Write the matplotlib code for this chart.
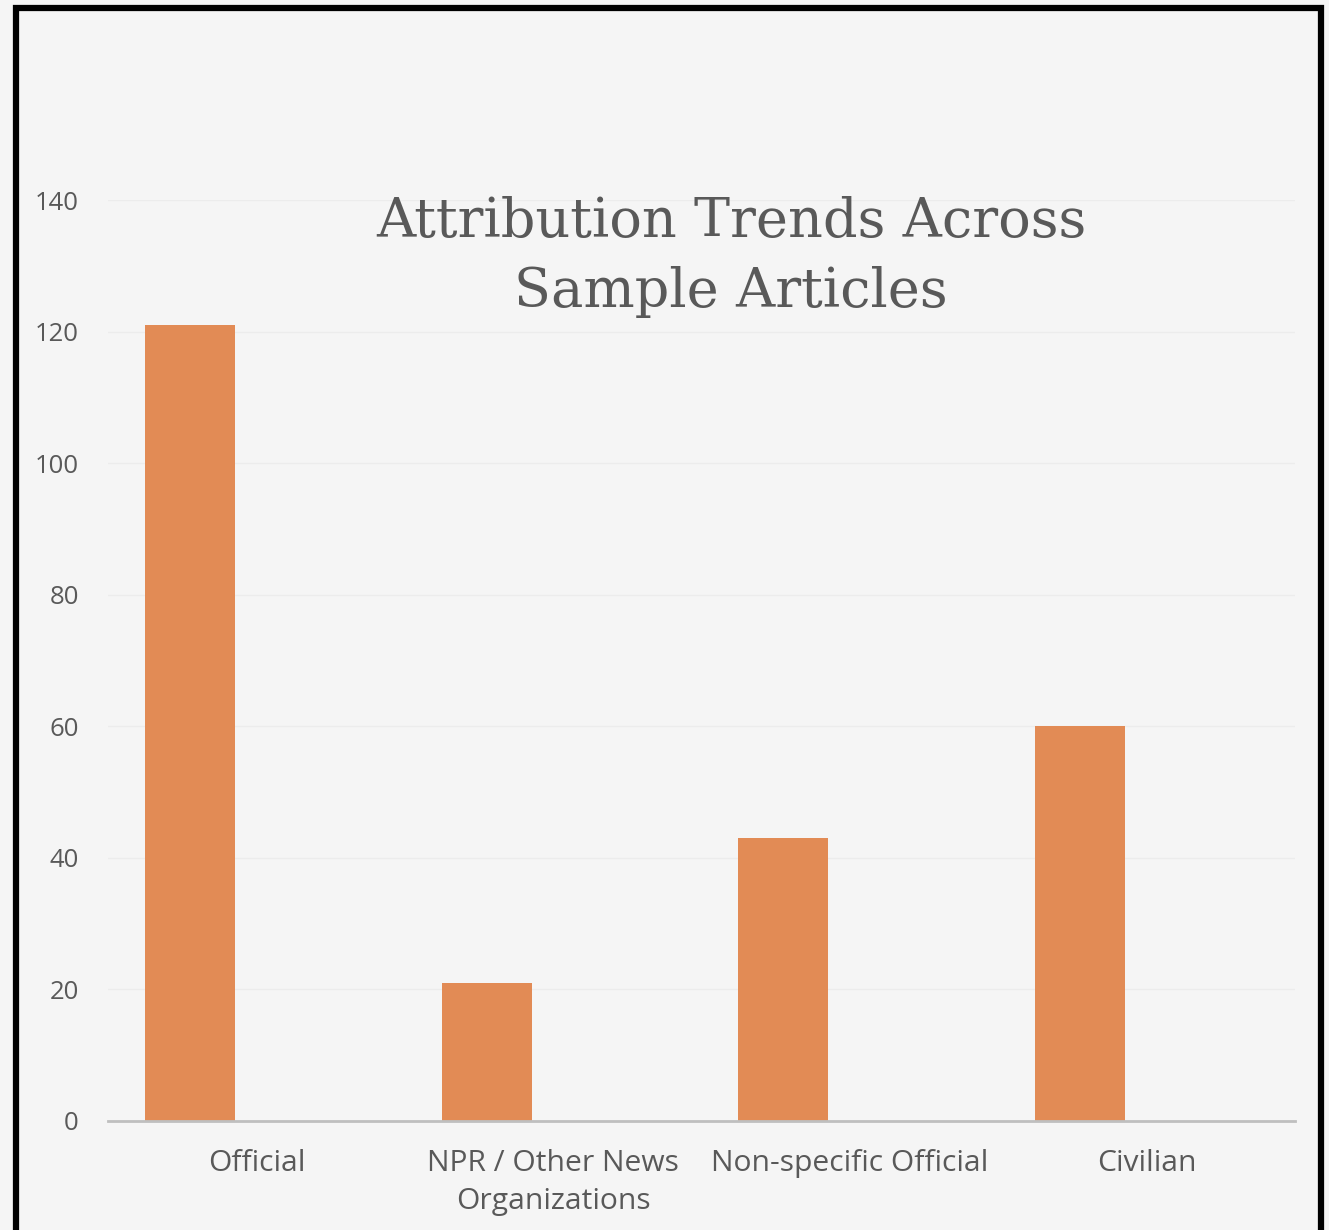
import matplotlib.pyplot as plt
import matplotlib.patches as mpatches
import numpy as np

# data
categories = ['Official', 'NPR / Other News\nOrganizations', 'Non-specific Official', 'Civilian']
counts = [121, 21, 43, 60]
yticks = [0, 20, 40, 60, 80, 100, 120, 140]

W, H = 1329, 1230
fig = plt.figure(figsize=(W/100, H/100), dpi=100, facecolor='#f5f5f5')
ax = fig.add_axes([108/W, 1-1121/H, (1295-108)/W, (1121-200)/H])
ax.set_facecolor('#f5f5f5')

x = np.arange(len(categories))
ax.bar(x - 0.224, counts, width=0.303, color='#E28B55', zorder=3)

ax.set_xlim(-0.5, 3.5)
ax.set_ylim(0, 140)
ax.set_yticks(yticks)
ax.set_xticks(x)
ax.set_xticklabels(categories, fontsize=21.6, family='Open Sans', color='#595959', linespacing=1.4)
ax.set_yticklabels([str(v) for v in yticks], fontsize=18.5, family='Open Sans', color='#595959')
ax.tick_params(axis='both', length=0)
ax.tick_params(axis='y', pad=21)
ax.tick_params(axis='x', pad=20)
ax.grid(axis='y', color='#ececec', linewidth=1, zorder=0)
for s in ['top', 'right', 'left']:
    ax.spines[s].set_visible(False)
ax.spines['bottom'].set_color('#bfbfbf')
ax.spines['bottom'].set_linewidth(2)
ax.spines['bottom'].set_zorder(4)

fig.text(731/W, 1-257/H, 'Attribution Trends Across\nSample Articles', ha='center', va='center',
         fontsize=39, family='DejaVu Serif', color='#595959', linespacing=1.42)

# black frame round the chart, bottom edge runs off the image
frame = mpatches.Rectangle((16/W, -0.05), (1321-16)/W, 1-8/H+0.05, transform=fig.transFigure,
                           fill=False, edgecolor='black', linewidth=4.5, clip_on=False)
fig.patches.append(frame)

fig.savefig('out.png', dpi=100, facecolor=fig.get_facecolor())
